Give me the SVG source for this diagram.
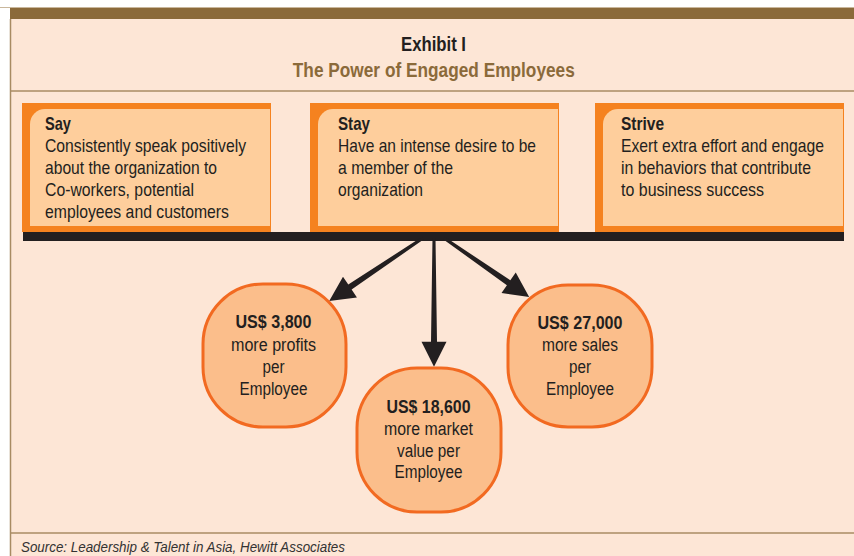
<svg xmlns="http://www.w3.org/2000/svg" width="854" height="556" viewBox="0 0 854 556">
  <style>
    .frame { fill: #FDE6D6; }
    .rule { stroke: #A88B63; stroke-width: 1.5; fill: none; }
    .band { fill: #8B6A3A; }
    .title { font-family: "Liberation Sans", Arial, sans-serif; font-weight: bold; font-size: 19.5px; text-anchor: middle; }
    .boxOuter { fill: #F5821F; }
    .boxInner { fill: #FECE9C; }
    .label { font-family: "Liberation Sans", Arial, sans-serif; font-size: 19px; fill: #231F20; }
    .label.b { font-weight: bold; }
    .blob { fill: #FBBE8B; stroke: #F26A21; stroke-width: 3; }
    .val { font-family: "Liberation Sans", Arial, sans-serif; font-size: 18px; fill: #231F20; text-anchor: middle; }
    .val.b { font-weight: bold; }
    .arrow { fill: #231F20; }
    .src { font-family: "Liberation Sans", Arial, sans-serif; font-style: italic; font-size: 14px; fill: #333333; }
  </style>

  <!-- page background and frame -->
  <rect x="0" y="0" width="854" height="556" fill="#FFFFFF"/>
  <rect class="frame" x="10" y="19" width="844" height="537"/>
  <line x1="0" y1="7.5" x2="854" y2="7.5" stroke="#C9B79C" stroke-width="1"/>
  <rect class="band" x="10" y="8" width="844" height="11"/>
  <line class="rule" x1="10.5" y1="19" x2="10.5" y2="556"/>
  <line class="rule" x1="10" y1="91" x2="854" y2="91"/>
  <line class="rule" x1="10" y1="533" x2="854" y2="533"/>

  <!-- heading -->
  <g id="heading">
    <text class="title" x="433.5" y="51" fill="#231F20" textLength="65" lengthAdjust="spacingAndGlyphs">Exhibit I</text>
    <text class="title" x="433.8" y="77" fill="#8B6A3A" textLength="282" lengthAdjust="spacingAndGlyphs">The Power of Engaged Employees</text>
  </g>

  <!-- behaviour boxes -->
  <g id="say">
    <rect class="boxOuter" x="22" y="103" width="249" height="129"/>
    <path class="boxInner" d="M30,124 A15,15 0 0 1 45,109 H270 V226 H30 Z"/>
    <text class="label b" x="45" y="130" textLength="26" lengthAdjust="spacingAndGlyphs">Say</text>
    <text class="label" x="45" y="152" textLength="201" lengthAdjust="spacingAndGlyphs">Consistently speak positively</text>
    <text class="label" x="45" y="174" textLength="172" lengthAdjust="spacingAndGlyphs">about the organization to</text>
    <text class="label" x="45" y="196" textLength="149" lengthAdjust="spacingAndGlyphs">Co-workers, potential</text>
    <text class="label" x="45" y="218" textLength="184" lengthAdjust="spacingAndGlyphs">employees and customers</text>
  </g>

  <g id="stay">
    <rect class="boxOuter" x="310" y="103" width="249" height="129"/>
    <path class="boxInner" d="M318,124 A15,15 0 0 1 333,109 H558 V226 H318 Z"/>
    <text class="label b" x="338" y="130" textLength="32" lengthAdjust="spacingAndGlyphs">Stay</text>
    <text class="label" x="338" y="152" textLength="198" lengthAdjust="spacingAndGlyphs">Have an intense desire to be</text>
    <text class="label" x="338" y="174" textLength="115" lengthAdjust="spacingAndGlyphs">a member of the</text>
    <text class="label" x="338" y="196" textLength="85" lengthAdjust="spacingAndGlyphs">organization</text>
  </g>

  <g id="strive">
    <rect class="boxOuter" x="595" y="103" width="249" height="129"/>
    <path class="boxInner" d="M603,124 A15,15 0 0 1 618,109 H843 V226 H603 Z"/>
    <text class="label b" x="621" y="130" textLength="43" lengthAdjust="spacingAndGlyphs">Strive</text>
    <text class="label" x="621" y="152" textLength="203" lengthAdjust="spacingAndGlyphs">Exert extra effort and engage</text>
    <text class="label" x="621" y="174" textLength="190" lengthAdjust="spacingAndGlyphs">in behaviors that contribute</text>
    <text class="label" x="621" y="196" textLength="143" lengthAdjust="spacingAndGlyphs">to business success</text>
  </g>

  <!-- connectors: base bar and tapered arrows -->
  <g id="connectors">
    <rect x="23" y="232" width="821" height="9" fill="#231F20"/>
    <!-- each arrow is drawn along +x from its start, then rotated into place -->
    <polygon class="arrow" transform="translate(423,238) rotate(146.1)" points="0,-1.5 88,-3 88,-12.5 113,0 88,12.5 88,3 0,1.5"/>
    <polygon class="arrow" transform="translate(434,238) rotate(90)" points="0,-1.5 103.7,-3 103.7,-12.5 128.7,0 103.7,12.5 103.7,3 0,1.5"/>
    <polygon class="arrow" transform="translate(444,238) rotate(34.7)" points="0,-1.5 78.6,-3 78.6,-12.5 103.6,0 78.6,12.5 78.6,3 0,1.5"/>
  </g>

  <!-- outcome figures -->
  <g id="profits">
    <rect class="blob" x="203" y="284" width="143" height="143" rx="60" ry="60"/>
    <text class="val b" x="273.5" y="328" textLength="76" lengthAdjust="spacingAndGlyphs">US$ 3,800</text>
    <text class="val" x="273.5" y="350.5" textLength="85" lengthAdjust="spacingAndGlyphs">more profits</text>
    <text class="val" x="273.5" y="372.5" textLength="22" lengthAdjust="spacingAndGlyphs">per</text>
    <text class="val" x="273.5" y="395" textLength="68" lengthAdjust="spacingAndGlyphs">Employee</text>
  </g>

  <g id="market">
    <rect class="blob" x="357" y="368" width="144" height="144" rx="60" ry="60"/>
    <text class="val b" x="428.5" y="412.5" textLength="84" lengthAdjust="spacingAndGlyphs">US$ 18,600</text>
    <text class="val" x="428.5" y="435" textLength="89" lengthAdjust="spacingAndGlyphs">more market</text>
    <text class="val" x="428.5" y="456.5" textLength="63" lengthAdjust="spacingAndGlyphs">value per</text>
    <text class="val" x="428.5" y="478" textLength="68" lengthAdjust="spacingAndGlyphs">Employee</text>
  </g>

  <g id="sales">
    <rect class="blob" x="508" y="285" width="144" height="142" rx="60" ry="60"/>
    <text class="val b" x="580" y="329" textLength="85" lengthAdjust="spacingAndGlyphs">US$ 27,000</text>
    <text class="val" x="580" y="351" textLength="76" lengthAdjust="spacingAndGlyphs">more sales</text>
    <text class="val" x="580" y="373" textLength="22" lengthAdjust="spacingAndGlyphs">per</text>
    <text class="val" x="580" y="394.5" textLength="68" lengthAdjust="spacingAndGlyphs">Employee</text>
  </g>

  <!-- source note -->
  <text class="src" x="21" y="552" textLength="324" lengthAdjust="spacingAndGlyphs">Source: Leadership &amp; Talent in Asia, Hewitt Associates</text>
</svg>
